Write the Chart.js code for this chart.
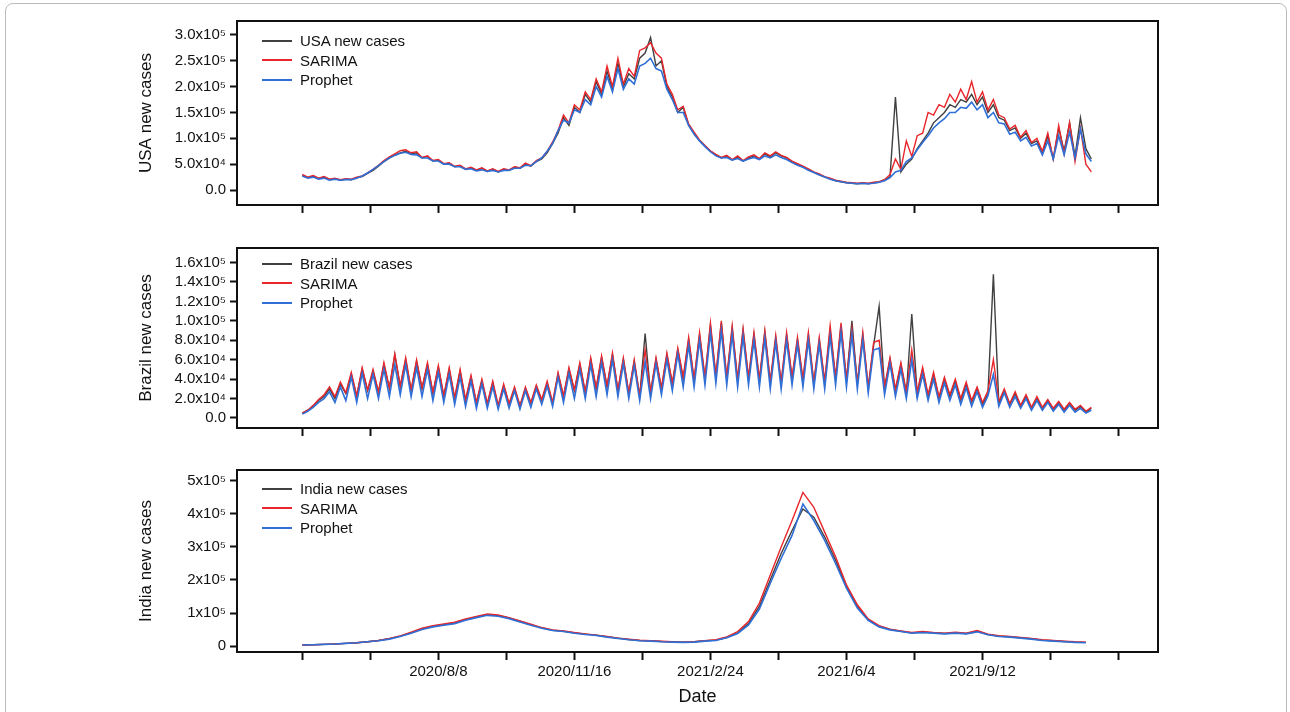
<!DOCTYPE html>
<html>
<head>
<meta charset="utf-8">
<script src="https://cdn.jsdelivr.net/npm/chart.js@4.4.0/dist/chart.umd.min.js"></script>
<style>
  body { margin: 0; background: #fff; font-family: Arial, "Liberation Sans", sans-serif; }
  #wrap { position: relative; width: 1290px; height: 712px; overflow: hidden; }
  #frame { position: absolute; left: 5px; top: 3px; width: 1280px; height: 720px; border: 1px solid #bbb; border-radius: 8px; }
  canvas { position: absolute; left: 0; }
  .legend { position: absolute; left: 262px; font-size: 15px; color: #111; line-height: 19.5px; }
  .legend div { display: flex; align-items: center; }
  .legend span { display: inline-block; width: 30px; height: 2px; margin-right: 8px; }
</style>
</head>
<body>
<div id="wrap">
  <div id="frame"></div>
  <canvas id="c1"></canvas>
  <canvas id="c2"></canvas>
  <canvas id="c3"></canvas>
  <div class="legend" style="top:31px"><div><span style="background:#404040"></span>USA new cases</div><div><span style="background:#e8262b"></span>SARIMA</div><div><span style="background:#2f6fd6"></span>Prophet</div></div>
  <div class="legend" style="top:254px"><div><span style="background:#404040"></span>Brazil new cases</div><div><span style="background:#e8262b"></span>SARIMA</div><div><span style="background:#2f6fd6"></span>Prophet</div></div>
  <div class="legend" style="top:479px"><div><span style="background:#404040"></span>India new cases</div><div><span style="background:#e8262b"></span>SARIMA</div><div><span style="background:#2f6fd6"></span>Prophet</div></div>
</div>
<script>
// Data (thousands of cases). Day 0 = 2020/4/30
const startDate = new Date(2020, 3, 30);
const stepUS = 4, stepBR = 4, stepIN = 8;

const usaActual = [28,24,27,22,25,20,22,19,21,20,24, 26,32,38,46,55,62,68,72,75,70,
  72,62,65,56,58,50,52,45,47,40,43,38, 42,36,40,35,40,38,44,42,50,46,
  55,60,72,90,110,140,125,160,150,185, 170,210,185,230,195,245,200,225,215,255,
  265,295,240,250,200, 180,150,160,125,110,95,85,75,
  68,62,66,58,64,56,62,66,60,70,64,72,66,62,55, 50,45,40,34,30,25,22,18,16,14,13,12,13,12,14,
  15,20,25,180,35, 50,60,80,95,110,130,140,150,165,160,175,170,185,165,180,
  150,165,140,135,115,120,100,110,90,95, 70,105,60,120,75,130,65,140,80,60];
const usaSarima = [30,25,28,23,26,21,23,20,22,21,25, 27,33,40,48,57,64,70,76,78,72,
  74,63,66,57,59,51,53,46,48,41,44,39, 43,37,41,36,41,39,45,43,52,47,
  57,62,75,93,115,145,130,165,155,190, 175,215,190,240,200,255,205,235,220,270,
  275,285,265,255,205, 185,155,162,128,112,97,86,76,
  69,63,67,59,66,57,64,68,61,72,66,74,67,63,56, 51,46,41,35,31,26,23,19,17,15,14,13,14,13,15,
  16,20,30,60,40, 95,65,105,110,150,145,165,160,185,170,195,175,210,170,190,
  155,175,145,140,118,125,102,115,92,100, 75,110,60,125,70,130,55,120,50,35];
const usaProphet = [27,23,25,21,23,19,21,19,20,20,23, 27,33,40,47,55,62,67,71,73,69,
  68,62,62,56,56,50,50,45,45,40,41,37, 39,36,38,35,38,38,42,42,48,47,
  55,62,75,90,115,135,130,155,150,175, 165,200,180,220,190,235,195,215,205,240,
  245,255,235,230,195, 175,150,150,125,108,95,84,74,
  66,62,63,58,61,56,60,63,59,66,62,68,63,59,53, 48,44,38,34,29,25,21,18,16,14,13,12,13,12,13,
  15,18,24,35,38, 55,62,78,92,105,120,130,138,150,150,160,158,170,155,165,
  140,150,130,128,108,112,95,102,85,90, 68,95,60,105,68,112,62,118,70,55];

const brazilActual = [5,8,12,18,22,30,20,35,
  25,45,22,50,28,48,26,55,30,65,32,60,28,58,30,55,25,52,
  22,50,20,48,18,42,15,38,14,36,12,33,14,30,12,30,15,32,18,35,
  15,45,22,50,28,55,26,60,30,62,32,65,28,60,25,58,22,87,
  25,60,30,65,35,70,40,
  80,38,85,40,95,42,98,40,92,38,90,40,85,38,88,36,82,35,85,40,
  80,38,85,35,80,36,90,40,95,38,100,35,85,30,75,115,
  30,60,28,55,25,107,25,50,22,
  45,20,40,22,38,18,35,16,30,14,25, 148,
  15,28,14,25,12,22,10,20,10,18,9,16,8,15,8,12,6,10];
const brazilSarima = [5,8,13,19,24,32,22,37,
  26,47,23,52,29,50,27,57,31,66,33,62,29,60,31,57,26,54,
  23,52,21,50,19,44,16,40,15,38,13,35,15,32,13,32,16,34,19,38,
  16,47,23,52,29,57,27,62,31,64,33,67,29,62,26,60,23,70,
  27,62,31,67,36,72,42,
  83,40,88,42,98,44,100,42,95,40,92,42,88,40,90,38,85,37,88,42,
  83,40,88,37,83,38,95,42,98,40,92,36,88,32,78,80,
  32,62,30,57,27,70,27,52,24,
  47,22,42,24,40,20,37,18,32,16,28, 60,
  17,30,15,27,13,24,11,22,11,19,10,17,9,16,9,13,7,11];
const brazilProphet = [4,7,11,16,20,27,16,32,
  18,42,16,46,20,45,20,50,22,55,24,55,22,52,22,50,18,47,
  16,45,14,42,12,38,10,35,10,32,9,30,10,28,9,28,11,30,14,33,
  12,42,16,46,20,50,20,55,22,57,24,60,22,56,20,54,18,58,
  20,56,24,60,28,66,32,
  75,32,80,34,88,36,90,34,86,32,84,34,80,32,82,30,78,30,80,34,
  76,32,80,30,76,30,84,34,88,32,86,30,80,26,70,72,
  24,56,22,50,20,60,20,45,18,
  40,16,36,18,34,14,31,12,27,11,23, 45,
  12,26,11,22,10,20,8,18,8,16,7,14,6,13,6,10,5,8];

const indiaActual = [3,4,5,6,8,10,13,17,22,30,40,52,60,65,70,80,88,95,92,85,75,65,55,48,45,40,36,33,28,24,
  20,17,16,14,13,12,13,16,18,26,40,68,120,200,280,350,415,390,330,260,180,120,80,60,50,45,40,42,40,38,
  40,38,45,35,30,28,25,22,18,16,14,12,11];
const indiaSarima = [3,4,5,6,8,10,13,17,23,31,42,54,62,67,72,82,90,97,94,86,76,66,56,49,46,41,37,33,29,24,
  21,18,16,15,13,12,13,16,19,28,44,74,130,215,300,380,465,420,345,270,185,125,82,62,51,46,41,44,41,39,
  42,39,47,36,31,29,26,23,19,17,15,13,12];
const indiaProphet = [3,4,5,6,8,10,13,16,21,29,39,50,58,63,68,78,86,93,90,83,73,63,54,47,44,39,35,32,27,23,
  19,16,15,13,12,11,12,15,17,25,38,64,112,190,265,335,430,380,320,250,175,115,78,58,49,44,39,41,39,37,
  39,37,43,34,29,27,24,21,17,15,13,11,10];

const xTickDays = [0,50,100,150,200,250,300,350,400,450,500,550,600];
const labelDays = [100,200,300,400,500];

function toPoints(arr, step) {
  return arr.map((v, i) => ({ x: i * step, y: v * 1000 }));
}

function dateLabel(day) {
  const d = new Date(startDate.getTime() + day * 86400000);
  return d.getFullYear() + "/" + (d.getMonth() + 1) + "/" + d.getDate();
}

const sup = { "4": "\u2074", "5": "\u2075" };

const framePlugin = {
  id: "frame",
  afterDraw(chart) {
    const a = chart.chartArea, c = chart.ctx;
    c.save();
    c.strokeStyle = "#111";
    c.lineWidth = 2;
    c.strokeRect(a.left, a.top, a.right - a.left, a.bottom - a.top);
    c.restore();
  }
};

function makePanel(id, top, height, plotH, data, step, yMin, yMax, yStep, fmt, title, showDates) {
  const cv = document.getElementById(id);
  cv.style.top = top + "px";
  cv.width = 1290; cv.height = height;
  cv.style.width = "1290px"; cv.style.height = height + "px";
  const padTop = 20;
  new Chart(cv, {
    type: "line",
    data: {
      datasets: [
        { data: toPoints(data[2], step), borderColor: "#2f6fd6", borderWidth: 1.6, order: 0 },
        { data: toPoints(data[1], step), borderColor: "#e8262b", borderWidth: 1.4, order: 1 },
        { data: toPoints(data[0], step), borderColor: "#404040", borderWidth: 1.4, order: 2 }
      ]
    },
    options: {
      responsive: false,
      animation: false,
      layout: { padding: { top: padTop, right: 132, left: 132, bottom: 0 } },
      elements: { point: { radius: 0 }, line: { tension: 0 } },
      plugins: { legend: { display: false }, tooltip: { enabled: false } },
      scales: {
        x: {
          type: "linear", min: -48, max: 629,
          afterBuildTicks: (s) => { s.ticks = xTickDays.map(v => ({ value: v })); },
          afterFit: (s) => { s.height = height - padTop - plotH; },
          grid: { display: true, drawOnChartArea: false, drawTicks: true, tickLength: 8, tickColor: "#111", tickWidth: 2 },
          border: { display: false },
          ticks: {
            autoSkip: false, maxRotation: 0, color: "#111", font: { size: 15 },
            callback: (v) => (showDates && labelDays.includes(v)) ? dateLabel(v) : ""
          },
          title: { display: showDates, text: "Date", color: "#111", font: { size: 18 }, padding: { top: 4 } }
        },
        y: {
          min: yMin, max: yMax,
          afterBuildTicks: (s) => {
            const t = [];
            for (let v = 0; v <= yMax; v += yStep) t.push({ value: v });
            s.ticks = t;
          },
          afterFit: (s) => { s.width = 105; },
          grid: { display: true, drawOnChartArea: false, drawTicks: true, tickLength: 7, tickColor: "#111", tickWidth: 2 },
          border: { display: false },
          ticks: { color: "#111", font: { size: 15 }, padding: 4, callback: fmt },
          title: { display: true, text: title, color: "#111", font: { size: 17 }, padding: { bottom: 0 } }
        }
      }
    },
    plugins: [framePlugin]
  });
}

function fmtUS(v) {
  if (v === 0) return "0.0";
  if (v < 1e5) return (v / 1e4).toFixed(1) + "x10" + sup["4"];
  return (v / 1e5).toFixed(1) + "x10" + sup["5"];
}
function fmtBR(v) {
  if (v === 0) return "0.0";
  if (v < 1e5) return (v / 1e4).toFixed(1) + "x10" + sup["4"];
  return (v / 1e5).toFixed(1) + "x10" + sup["5"];
}
function fmtIN(v) { return v === 0 ? "0" : (v / 1e5) + "x10" + sup["5"]; }

makePanel("c1", 1, 240, 184, [usaActual, usaSarima, usaProphet], stepUS, -29000, 327000, 50000, fmtUS, "USA new cases", false);
makePanel("c2", 228, 240, 180, [brazilActual, brazilSarima, brazilProphet], stepBR, -10300, 175000, 20000, fmtBR, "Brazil new cases", false);
makePanel("c3", 450, 262, 182, [indiaActual, indiaSarima, indiaProphet], stepIN, -18000, 533000, 100000, fmtIN, "India new cases", true);
</script>
</body>
</html>
